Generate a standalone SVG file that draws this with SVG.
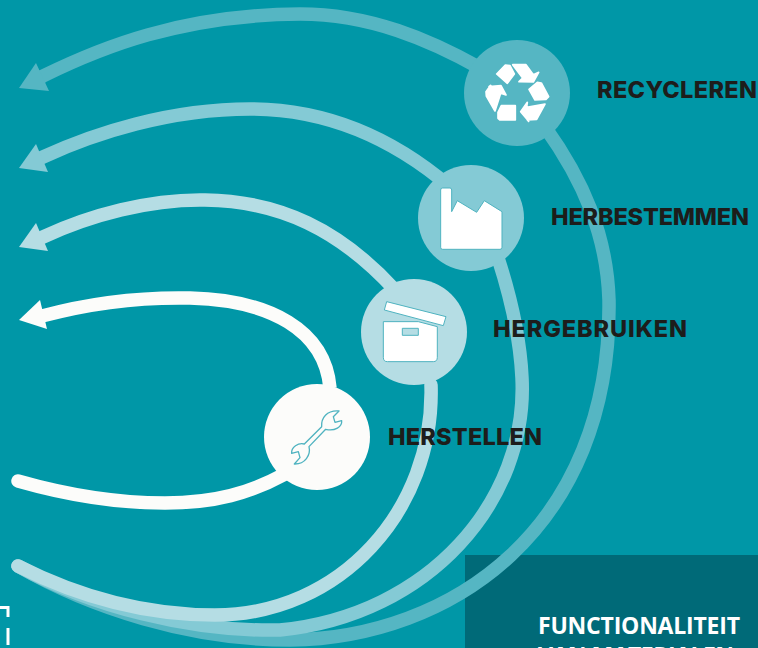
<svg xmlns="http://www.w3.org/2000/svg" width="758" height="648" viewBox="0 0 758 648">
<style>
.c{fill:none;stroke-width:13.5;stroke-linecap:butt}
.r{stroke-linecap:round}
.a{stroke:#55b6c3}.b{stroke:#84cad5}.d{stroke:#b5dde4}.e{stroke:#fcfcfa}
.fa{fill:#55b6c3}.fb{fill:#84cad5}.fd{fill:#b5dde4}.fe{fill:#fcfcfa}
.l{font-family:"Inter","Liberation Sans",sans-serif;font-weight:800;font-size:23.500px;fill:#1d1d1b}
.w{font-family:"Open Sans","Liberation Sans",sans-serif;font-weight:700;font-size:23px;fill:#fff}
.ic{fill:#fff;stroke:#4fb3c0;stroke-width:3;stroke-linejoin:round}
</style>
<rect width="758" height="648" fill="#0097a7"/>
<rect x="465" y="555" width="293" height="93" fill="#006a78"/>
<path d="M0,607.500H8V617M8,628V645" fill="none" stroke="#fff" stroke-width="3"/>
<g id="connectors">
<path class="c a r" d="M18,566C90,608 190,640 290,640C450,638 612,530 609,300C607,235 583,180 545,127"/>
<path class="c a" d="M34,81L43,76C100,48 180,15 300,14C370,14 430,40 480,68"/>
<polygon class="fa" points="19,88 36,63 49,91"/>
<path class="c b r" d="M18,566C90,606 190,632 280,630C430,615 528,500 522,378C520,335 510,295 498,258"/>
<path class="c b" d="M34,161L43,157C95,133 170,109 250,109C330,109 395,140 450,187"/>
<polygon class="fb" points="19,168 36,144 48,172"/>
<path class="c d r" d="M18,566C85,600 150,615 215,615C340,615 435,510 431,385"/>
<path class="c d" d="M34,241L43,237C90,215 150,199 205,200C280,201 340,230 395,290"/>
<polygon class="fd" points="19,247 36,223 48,251"/>
<path class="c e r" d="M18,481C60,493 110,503 165,503C215,503 250,493 285,474"/>
<path class="c e" d="M34,318L42,316C90,303 140,297 190,298C270,300 325,330 330,388"/>
<polygon class="fe" points="19,320 40,300 47,329"/>
</g>
<g id="recycleren">
<circle class="fa" cx="517" cy="93" r="53"/>
<g transform="translate(480,50) scale(.3333)" fill="#fff" stroke="#fff" stroke-width="5" stroke-linejoin="round">
<path d="M50,72L76,45L90,47L103,72L82,100Z"/>
<path d="M98,44H138L160,74L176,67L160,96L117,95L128,84Z"/>
<path d="M147,118L172,97L184,99L206,140L198,148L165,150Z"/>
<path d="M195,162L170,208L142,210L146,214L122,185L142,157L140,172Z"/>
<path d="M54,205V187L64,167H106V210H60Z"/>
<path d="M18,125L32,106L27,110L63,107L78,135L62,130L45,183L19,138Z"/>
</g>
<text class="l" x="597" y="98" textLength="160">RECYCLEREN</text>
</g>
<g id="herbestemmen">
<circle class="fb" cx="471" cy="218" r="53"/>
<path transform="translate(350,160) scale(.3333)" class="ic" d="M272,90Q272,84 278,84H300Q305,84 305,90V155L322,122L380,157L403,122L456,155V262Q456,268 450,268H278Q272,268 272,262Z"/>
<text class="l" x="551" y="225" textLength="198">HERBESTEMMEN</text>
</g>
<g id="hergebruiken">
<circle class="fd" cx="414" cy="332" r="53"/>
<g transform="translate(350,160) scale(.3333)">
<path class="ic" d="M110,425L288,470L280,497L103,450Z"/>
<path class="ic" d="M100,485H205L262,500V592Q262,605 250,605H112Q100,605 100,592Z"/>
<rect class="ic" x="157" y="505" width="48" height="21" style="fill:#b5dde4"/>
</g>
<text class="l" x="493" y="337" textLength="194">HERGEBRUIKEN</text>
</g>
<g id="herstellen">
<circle class="fe" cx="317" cy="437" r="53"/>
<path transform="translate(285,405) scale(.3333)" fill="none" stroke="#4fb3c0" stroke-width="4" stroke-linejoin="round" d="M110,65C108,40 125,15 162,18L145,35L150,52L170,47C172,65 150,80 122,73L72,125C78,150 60,178 28,177L45,158L40,140L20,145C18,127 40,112 58,117Z"/>
<text class="l" x="388" y="445" textLength="154">HERSTELLEN</text>
</g>
<g id="functionaliteit">
<text class="w" x="538" y="634" textLength="202">FUNCTIONALITEIT</text>
<text class="w" x="538" y="664" textLength="196">VAN MATERIALEN</text>
</g>
</svg>
